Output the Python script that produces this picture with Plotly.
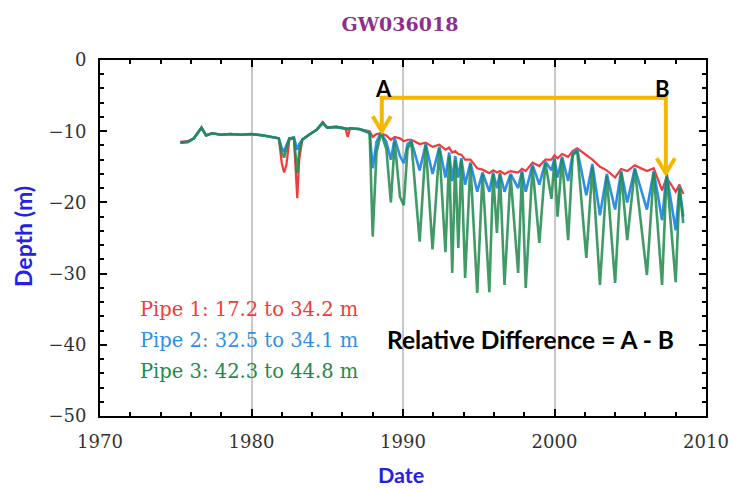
import plotly.graph_objects as go

# ---------------- data ----------------
dates = [
    1975.3, 1975.8, 1976.2, 1976.5, 1976.7, 1977.0, 1977.4, 1978.0, 1978.6, 1979.3,
    1980.0, 1980.8, 1981.4, 1981.8, 1982.0, 1982.15, 1982.3, 1982.5, 1982.8, 1982.95,
    1983.02, 1983.15, 1983.35, 1983.8, 1984.3, 1984.7, 1985.0, 1985.6, 1986.2, 1986.35,
    1986.5, 1987.1, 1987.6,
    1987.8, 1988.0, 1988.25, 1988.55, 1988.9, 1989.2, 1989.45, 1989.8, 1990.05, 1990.3,
    1990.55, 1991.1, 1991.5, 1991.95, 1992.4, 1992.8, 1993.05, 1993.25, 1993.45, 1993.65,
    1993.85, 1994.1, 1994.45, 1994.9, 1995.25, 1995.7, 1995.95, 1996.2, 1996.4, 1996.7,
    1997.1, 1997.6, 1997.85, 1998.1, 1998.55, 1999.0, 1999.4, 1999.8, 2000.0, 2000.2,
    2000.5, 2000.9, 2001.2, 2001.5, 2002.1, 2002.5, 2003.0, 2003.45, 2004.0, 2004.4,
    2004.8, 2005.3, 2006.1, 2006.55, 2007.1, 2007.4, 2008.0, 2008.25, 2008.5,
]

pipe1 = [
    -11.5, -11.4, -11.0, -10.0, -9.5, -10.6, -10.3, -10.5, -10.4, -10.5,
    -10.4, -10.6, -10.8, -11.0, -14.5, -15.8, -14.8, -11.2, -11.0, -16.0,
    -19.4, -14.0, -11.2, -10.5, -9.8, -8.7, -9.5, -9.4, -9.6, -10.8,
    -9.6, -9.7, -9.9,
    -10.0, -10.8, -10.4, -10.3, -10.6, -11.2, -10.8, -11.0, -11.4, -11.2,
    -11.2, -11.8, -11.6, -12.2, -11.9, -12.6, -12.3, -13.0, -12.8, -13.2,
    -13.3, -14.0, -14.0, -15.2, -15.4, -15.9, -15.5, -15.8, -15.6, -16.0,
    -15.6, -15.8, -15.3, -15.6, -14.4, -14.9, -14.0, -14.0, -13.4, -13.8,
    -13.2, -13.6, -12.8, -12.4, -13.4, -14.0, -15.0, -15.5, -16.5, -15.3,
    -15.6, -14.8, -15.6, -15.2, -18.3, -16.5, -18.5, -17.5, -18.8,
]

pipe2 = [
    -11.6, -11.5, -11.0, -10.0, -9.5, -10.6, -10.3, -10.5, -10.4, -10.5,
    -10.4, -10.6, -10.8, -11.0, -12.4, -12.8, -12.0, -11.0, -10.9, -12.0,
    -12.6, -11.8, -11.2, -10.5, -9.8, -8.9, -9.5, -9.4, -9.6, -9.7,
    -9.6, -9.7, -10.0,
    -10.2, -15.2, -11.5, -10.2, -11.5, -14.0, -11.0, -13.5, -14.5, -11.8,
    -11.4, -15.5, -11.8, -16.0, -12.2, -16.5, -13.0, -17.0, -13.5, -16.5,
    -13.8, -17.5, -14.4, -18.5, -15.8, -18.5, -15.8, -18.0, -15.9, -18.5,
    -16.0, -18.0, -15.6, -18.5, -14.7, -17.5, -14.3, -15.5, -13.8, -16.5,
    -13.6, -17.0, -13.2, -12.6, -19.0, -14.6, -21.8, -16.0, -21.0, -15.6,
    -20.0, -15.2, -21.0, -15.6, -22.5, -16.0, -23.9, -17.8, -22.0,
]

pipe3 = [
    -11.6, -11.5, -11.0, -10.0, -9.5, -10.6, -10.3, -10.5, -10.4, -10.5,
    -10.4, -10.6, -10.8, -11.0, -13.0, -13.7, -12.5, -11.0, -10.9, -14.5,
    -15.9, -12.8, -11.2, -10.5, -9.8, -8.8, -9.5, -9.4, -9.6, -9.7,
    -9.6, -9.7, -10.1,
    -10.3, -24.8, -13.0, -10.2, -12.5, -20.0, -11.5, -19.2, -20.4, -12.5,
    -11.5, -25.5, -11.9, -26.6, -12.4, -27.0, -13.5, -29.9, -14.0, -26.4,
    -14.0, -30.6, -14.6, -32.7, -16.0, -32.6, -16.0, -24.3, -16.0, -31.6,
    -16.2, -29.9, -15.8, -32.0, -15.0, -25.7, -14.5, -19.5, -14.0, -22.0,
    -13.8, -25.3, -13.4, -12.8, -27.8, -15.0, -31.6, -16.3, -31.3, -15.8,
    -25.3, -15.4, -30.2, -15.8, -31.6, -16.0, -31.2, -18.0, -22.9,
]

pipe_labels = ["Pipe 1: 17.2 to 34.2 m", "Pipe 2: 32.5 to 34.1 m", "Pipe 3: 42.3 to 44.8 m"]
x_ticks = [1970, 1980, 1990, 2000, 2010]
y_ticks = [0, -10, -20, -30, -40, -50]

# ---------------- styling ----------------
RED, BLUE, GREEN = "#f23a3a", "#2f8fe6", "#1f8a4c"
AXIS_BLUE = "#2222e6"
ARROW = "#f5b800"
SERIF = "DejaVu Serif"
SANS = "Lato"

fig = go.Figure()
fig.add_trace(go.Scatter(x=dates, y=pipe1, mode="lines", name=pipe_labels[0],
                         line=dict(color=RED, width=2.2)))
fig.add_trace(go.Scatter(x=dates, y=pipe2, mode="lines", name=pipe_labels[1],
                         line=dict(color=BLUE, width=2.6)))
fig.add_trace(go.Scatter(x=dates, y=pipe3, mode="lines", name=pipe_labels[2],
                         line=dict(color=GREEN, width=2.6), opacity=0.85))

axis_common = dict(
    showline=True, linecolor="black", linewidth=2, mirror="ticks",
    ticks="inside", ticklen=7, tickwidth=2, tickcolor="black",
    tickfont=dict(family=SERIF, size=18, color="#333333"),
    zeroline=False, ticklabelstandoff=8, automargin=False,
)

fig.update_xaxes(
    range=[1970, 2010], tickvals=x_ticks,
    showgrid=True, gridcolor="#c8c8c8", gridwidth=1.5,
    minor=dict(dtick=2, ticks="inside", ticklen=4, tickwidth=2, tickcolor="black", showgrid=False),
    **axis_common,
)
fig.update_yaxes(
    range=[-50, 0], tickvals=y_ticks, showgrid=False,
    minor=dict(dtick=2, ticks="inside", ticklen=4, tickwidth=2, tickcolor="black", showgrid=False),
    **axis_common,
)

# bracket arrow from A to B
xa, xb, ytop, ya_tip, yb_tip = 1988.6, 2007.35, -5.3, -10.0, -15.9
dxh, dyh = 0.6, 2.1
fig.add_shape(type="path", xref="x", yref="y",
              path=f"M {xa},{ya_tip} L {xa},{ytop} L {xb},{ytop} L {xb},{yb_tip}",
              line=dict(color=ARROW, width=4))
for xt, yt in [(xa, ya_tip), (xb, yb_tip)]:
    fig.add_shape(type="path", xref="x", yref="y",
                  path=f"M {xt-dxh},{yt+dyh} L {xt},{yt} L {xt+dxh},{yt+dyh}",
                  line=dict(color=ARROW, width=4))

annots = []
def txt(x, y, text, font, **kw):
    d = dict(x=x, y=y, xref="paper", yref="paper", text=text, showarrow=False,
             xanchor="center", yanchor="middle", font=font)
    d.update(kw)
    annots.append(d)

txt(0.467, 0.921, "<b>A</b>", dict(family=SANS, size=22, color="black"))
txt(0.929, 0.921, "<b>B</b>", dict(family=SANS, size=22, color="black"))
txt(0.7096, 0.2135, "<b>Relative Difference = A - B</b>", dict(family=SANS, size=24.5, color="black"))
for lbl, col, yy in zip(pipe_labels, [RED, BLUE, GREEN], [0.298, 0.211, 0.126]):
    txt(0.0627, yy, lbl, dict(family=SERIF, size=19.5, color=col), xanchor="left")
# axis titles
txt(0.497, -0.166, "<b>Date</b>", dict(family=SANS, size=21.5, color=AXIS_BLUE))
txt(-0.127, 0.503, "<b>Depth (m)</b>", dict(family=SANS, size=23, color=AXIS_BLUE), textangle=-90)

fig.update_layout(
    width=729, height=489,
    margin=dict(l=100, r=23, t=60, b=73),
    paper_bgcolor="white", plot_bgcolor="white",
    showlegend=False,
    title=dict(text="<b>GW036018</b>", x=0.495, xref="paper", y=1 - 24 / 489, yanchor="middle",
               font=dict(family=SERIF, size=19, color="#8e2f8e")),
    annotations=annots,
)

fig.write_html("out.html", config={"displayModeBar": False},
               post_script="document.body.style.margin='0';document.body.style.padding='0';")
